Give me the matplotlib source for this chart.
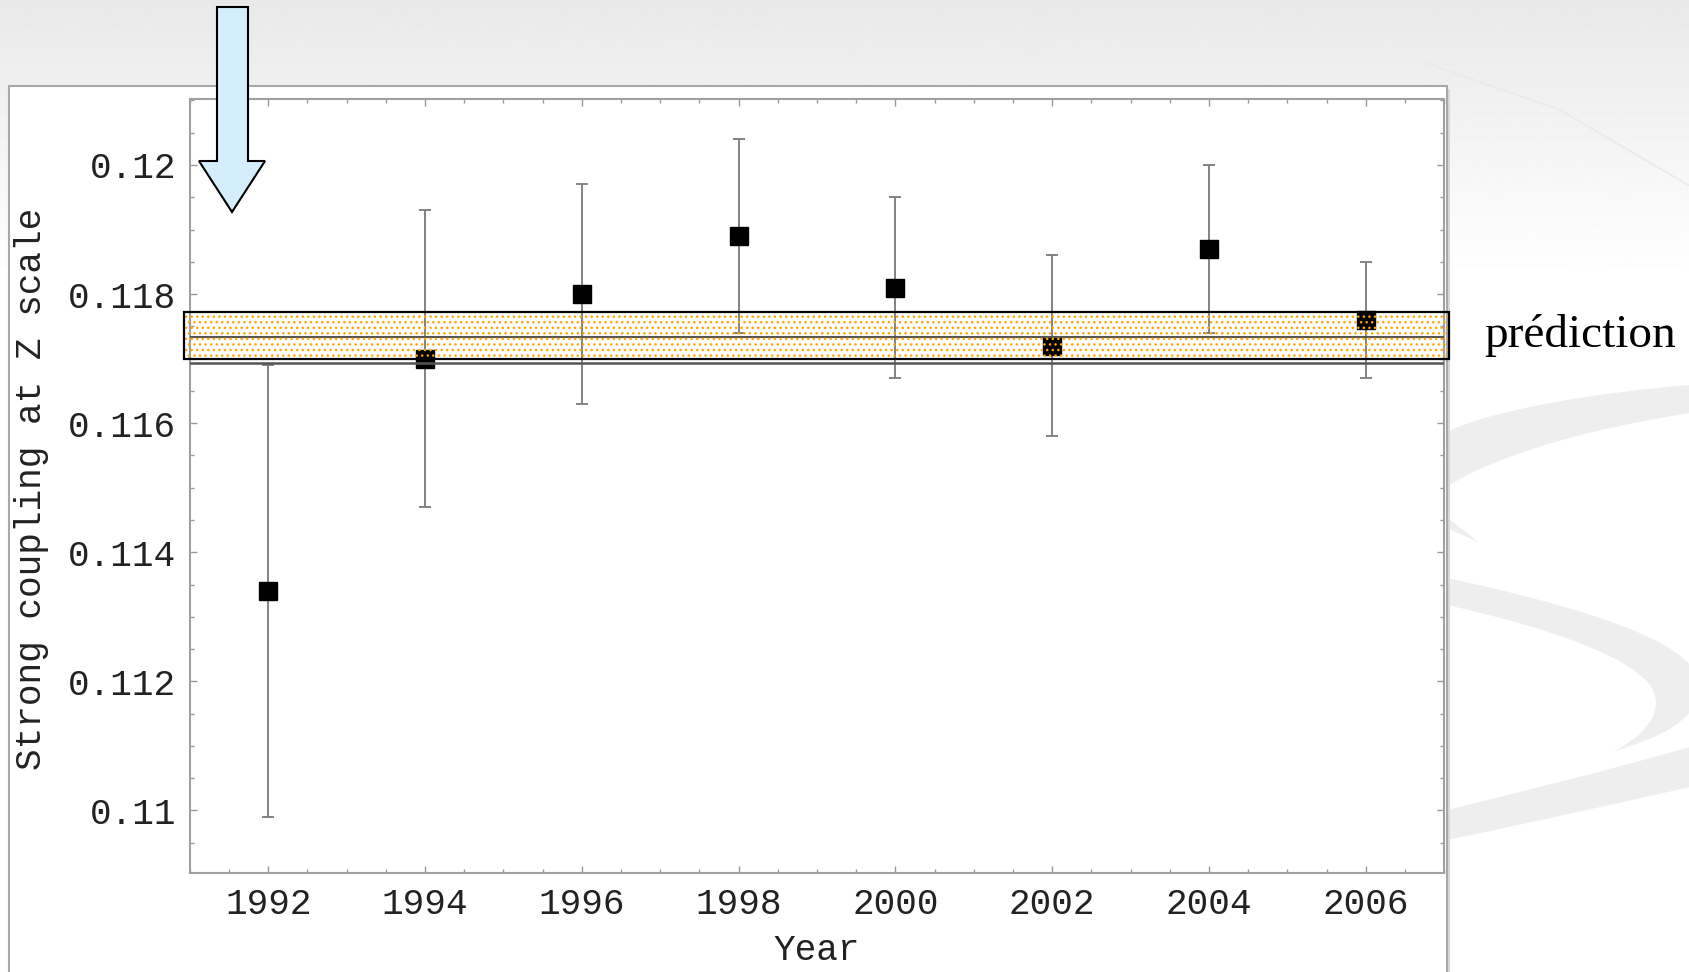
import numpy as np
import matplotlib.pyplot as plt
from matplotlib.patches import Rectangle, Polygon, PathPatch
from matplotlib.path import Path
from matplotlib.ticker import MultipleLocator, FixedLocator

# world average of alpha_s(Mz) per year
years = [1992, 1994, 1996, 1998, 2000, 2002, 2004, 2006]
alpha_s = [0.1134, 0.1170, 0.1180, 0.1189, 0.1181, 0.1172, 0.1187, 0.1176]
alpha_err = [0.0035, 0.0023, 0.0017, 0.0015, 0.0014, 0.0014, 0.0013, 0.0009]

# prediction band
pred_center = 0.11733
pred_lo = 0.1170
pred_hi = 0.11773
pred_line = 0.11693

yticks = [0.110, 0.112, 0.114, 0.116, 0.118, 0.120]
ytick_labels = ['0.11', '0.112', '0.114', '0.116', '0.118', '0.12']

W, H = 1690, 972
fig = plt.figure(figsize=(W / 100, H / 100), dpi=100)
mono = 'Liberation Mono'
fs = 26

# slide background, pixel coordinates
bg = fig.add_axes([0, 0, 1, 1], zorder=0)
bg.set_xlim(0, W)
bg.set_ylim(H, 0)
bg.axis('off')
grad = np.linspace(0, 1, 300).reshape(-1, 1)
bg.imshow(0.913 + 0.087 * grad, cmap='gray', vmin=0, vmax=1, aspect='auto',
          extent=[0, W, 280, 0])
bg.add_patch(Rectangle((0, 280), W, H - 280, color='white', lw=0))

def swoosh(pts, codes):
    return PathPatch(Path(pts, codes), facecolor='#eeeeee', edgecolor='none')

M, C, L, Z = Path.MOVETO, Path.CURVE4, Path.LINETO, Path.CLOSEPOLY
# swooshes on the right of the slide
bg.add_patch(swoosh([(1690, 385), (1600, 392), (1490, 410), (1447, 432),
                     (1390, 460), (1400, 515), (1447, 528),
                     (1478, 542), (1447, 517),
                     (1425, 508), (1425, 495), (1447, 487),
                     (1490, 458), (1580, 430), (1690, 413), (1690, 385)],
                    [M, C, C, C, C, C, C, L, L, C, C, C, C, C, C, Z]))
bg.add_patch(swoosh([(1447, 578), (1550, 600), (1660, 630), (1690, 665),
                     (1690, 712),
                     (1670, 735), (1640, 742), (1613, 752),
                     (1645, 735), (1665, 712), (1652, 688),
                     (1635, 660), (1560, 630), (1447, 605), (1447, 578)],
                    [M, C, C, C, L, C, C, C, C, C, C, C, C, C, Z]))
bg.add_patch(swoosh([(1447, 810), (1520, 792), (1610, 770), (1690, 747),
                     (1690, 787), (1610, 805), (1520, 825), (1447, 840), (1447, 810)],
                    [M, C, C, C, L, C, C, C, Z]))
bg.plot([1423, 1560, 1690], [62, 110, 186], color='#eaeaea', lw=1.2)

# white panel holding the plot
bg.add_patch(Rectangle((12, 89), 1438, 900, facecolor='#d8d8d8', lw=0))
bg.add_patch(Rectangle((9, 86), 1438, 900, facecolor='white',
                       edgecolor='#a8a8a8', lw=1.5))

ax = fig.add_axes([0.1123, 0.1018, 0.7423, 0.7962], zorder=1)
ax.set_facecolor('white')

ax.errorbar(years, alpha_s, yerr=alpha_err, fmt='none', ecolor='#7a7a7a',
            elinewidth=1.3, capsize=4, capthick=1.3, zorder=2)
ax.plot(years, alpha_s, 's', color='black', markersize=12.5, zorder=3)

ax.axhline(pred_center, color='#555555', lw=1.5, zorder=4)
ax.axhline(pred_line, color='#555555', lw=1.8, zorder=4)
plt.rcParams['hatch.linewidth'] = 1.0
ax.add_patch(Rectangle((1990.92, pred_lo), 2007.06 - 1990.92, pred_hi - pred_lo,
                       facecolor='none', edgecolor='#ffa500', hatch='...',
                       lw=0, clip_on=False, zorder=5))
ax.add_patch(Rectangle((1990.92, pred_lo), 2007.06 - 1990.92, pred_hi - pred_lo,
                       facecolor='none', edgecolor='black', lw=1.6,
                       clip_on=False, zorder=6))

ax.set_xlim(1991, 2007)
ax.set_ylim(0.10903, 0.12102)
ax.set_xticks(years)
ax.set_xticklabels([str(y) for y in years])
ax.yaxis.set_major_locator(FixedLocator(yticks))
ax.set_yticklabels(ytick_labels)
ax.xaxis.set_minor_locator(MultipleLocator(0.5))
ax.yaxis.set_minor_locator(MultipleLocator(0.0005))
ax.tick_params(which='both', direction='in', top=True, right=True,
               color='#999999', width=1)
ax.tick_params(which='major', length=5, labelsize=fs, pad=10)
ax.tick_params(which='minor', length=3)
for lab in ax.get_xticklabels() + ax.get_yticklabels():
    lab.set_fontfamily(mono)
    lab.set_color('#222222')
for s in ax.spines.values():
    s.set_color('#a0a0a0')
    s.set_linewidth(1.5)

ax.set_xlabel('Year', fontsize=fs, family=mono, color='#222222')
ax.set_ylabel('Strong coupling at Z scale', fontsize=fs, family=mono, color='#222222')
ax.xaxis.set_label_coords(0.5, -0.077)
ax.yaxis.set_label_coords(-0.112, 0.497)

# overlay: arrow and label
top = fig.add_axes([0, 0, 1, 1], zorder=2)
top.set_xlim(0, W)
top.set_ylim(H, 0)
top.axis('off')
top.patch.set_alpha(0)
arrow = [(217, 7), (248, 7), (248, 161), (265, 161), (232, 212),
         (199, 161), (217, 161)]
top.add_patch(Polygon(arrow, closed=True, facecolor='#d5eefc',
                      edgecolor='black', lw=1.5))
top.text(1484, 347, 'prédiction', fontsize=34, family='Liberation Serif',
         va='baseline', ha='left', color='black')

fig.savefig('out.png', dpi=100)
